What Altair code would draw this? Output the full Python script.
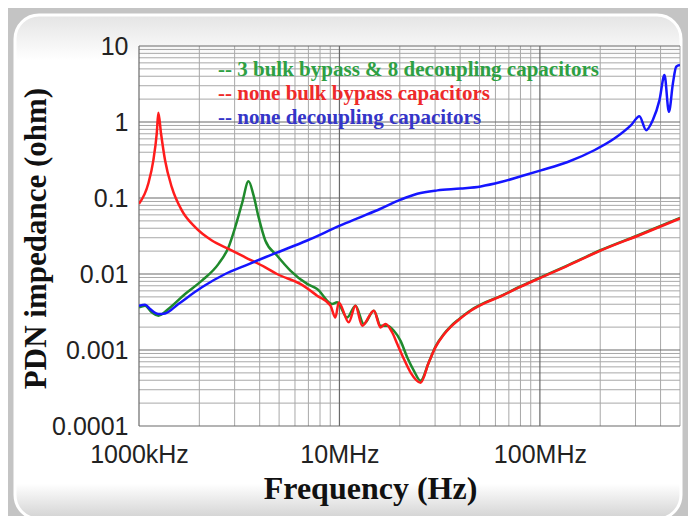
import altair as alt
import pandas as pd

# ---------------- data (frequency in MHz, impedance in ohm) ----------------
green_f = [1.0, 1.072, 1.157, 1.249, 1.401, 1.698, 2.059, 2.493, 2.796, 3.02, 3.263, 3.52,
           3.728, 3.95, 4.266, 4.88, 5.69, 6.9, 7.74, 9.2, 9.74, 10.93, 12.02, 13.23, 14.85,
           16.03, 17.32, 18.69, 20.18, 21.8, 23.53, 25.41, 27.86, 30.2, 33.11, 35.89, 39.36,
           45.19, 53.7, 62.37, 80.35, 101.2, 134.9, 201.8, 319.9, 500]
green_z = [0.00364, 0.00383, 0.00313, 0.00283, 0.00347, 0.00546, 0.00818, 0.0136, 0.0225,
           0.0413, 0.0841, 0.1656, 0.108, 0.056, 0.0276, 0.0175, 0.0111, 0.0074, 0.00635,
           0.00403, 0.00424, 0.00268, 0.00383, 0.0022, 0.00329, 0.00209, 0.00209, 0.00179,
           0.00132, 0.000796, 0.000532, 0.000393, 0.00068, 0.00112, 0.00161, 0.00205,
           0.00253, 0.00333, 0.00425, 0.0050, 0.0069, 0.0091, 0.0127, 0.0207, 0.0336, 0.0548]

red_f = [1.0, 1.113, 1.179, 1.226, 1.249, 1.288, 1.349, 1.457, 1.635, 1.905, 2.31, 2.796,
         3.388, 4.266, 4.88, 6.38, 7.74, 9.02, 9.55, 9.92, 11.13, 12.02, 12.99, 14.85, 16.03,
         16.98, 18.34, 19.43, 20.97, 22.65, 25.41, 27.86, 30.2, 33.11, 35.89, 39.36, 45.19,
         53.7, 62.37, 80.35, 101.2, 134.9, 201.8, 319.9, 500]
red_z = [0.084, 0.155, 0.313, 0.705, 1.32, 0.705, 0.313, 0.139, 0.0686, 0.0413, 0.0276,
         0.0214, 0.0166, 0.01225, 0.0100, 0.0074, 0.00519, 0.00383, 0.00268, 0.00423,
         0.00231, 0.00383, 0.00209, 0.00329, 0.00198, 0.0022, 0.0017, 0.0012, 0.00076,
         0.000505, 0.000372, 0.000678, 0.0011, 0.00159, 0.00202, 0.0025, 0.00329, 0.0042,
         0.00495, 0.00682, 0.00897, 0.01253, 0.0204, 0.0331, 0.0538]

blue_f = [1.0, 1.072, 1.135, 1.249, 1.349, 1.572, 2.059, 2.692, 3.388, 4.266, 4.694, 6.9,
          10.12, 12.74, 16.03, 20.18, 24.46, 30.8, 40.3, 50.7, 63.8, 80.4, 101.2, 137.6,
          186.8, 235.2, 285, 313.7, 338.8, 366, 395, 418.4, 440.2, 460.9, 478.6, 500]
blue_z = [0.00383, 0.00394, 0.00347, 0.00298, 0.00303, 0.00403, 0.00668, 0.0100, 0.0129,
          0.0166, 0.0184, 0.0276, 0.0435, 0.056, 0.0722, 0.095, 0.114, 0.126, 0.133, 0.142,
          0.162, 0.193, 0.231, 0.298, 0.425, 0.605, 0.908, 1.19, 0.78, 1.06, 1.94, 4.14,
          1.36, 3.22, 5.33, 5.61]

legend_labels = ["-- 3 bulk bypass & 8 decoupling capacitors",
                 "-- none bulk bypass capacitors",
                 "-- none decoupling capacitors"]
legend_colors = ["#2ea043", "#ee2a2a", "#3535c8"]
line_colors = ["#1f8a2c", "#ff1c1c", "#1515ff"]

x_tick_values = [1e6, 1e7, 1e8]
x_tick_labels = ["1000kHz", "10MHz", "100MHz"]
y_tick_values = [10, 1, 0.1, 0.01, 0.001, 0.0001]
x_domain = [1e6, 5e8]
y_domain = [0.0001, 10]
x_decades = [1e6, 1e7, 1e8]
y_decades = [0.0001, 0.001, 0.01, 0.1, 1]
minor_mult = [2, 3, 4, 5, 6, 7, 8, 9]

# ---------------- tables ----------------
def series(f, z):
    return pd.DataFrame({"f": [v * 1e6 for v in f], "z": z})

df_green = series(green_f, green_z)
df_red = series(red_f, red_z)
df_blue = series(blue_f, blue_z)

x_minor = [m * d for d in x_decades for m in minor_mult if m * d <= x_domain[1]]
y_minor = [m * d for d in y_decades for m in minor_mult]
df_xminor = pd.DataFrame({"f": x_minor})
df_yminor = pd.DataFrame({"z": y_minor})
df_xmajor = pd.DataFrame({"f": x_decades})
df_ymajor = pd.DataFrame({"z": y_tick_values})

label_expr = " : ".join(
    f"datum.value == {v:g} ? '{t}'" for v, t in zip(x_tick_values, x_tick_labels)
) + " : ''"

x_axis = alt.Axis(values=x_tick_values, labelExpr=label_expr, grid=False, ticks=False,
                  domain=False, labelFont="Liberation Sans", labelFontSize=25,
                  labelColor="#222222", labelPadding=28, labelBaseline="middle",
                  labelFlush=False, labelOverlap=False,
                  titleFont="Liberation Serif", titleFontSize=32, titleFontWeight="bold",
                  titleColor="#111111", titleX=231, titleY=62, titleAlign="center",
                  titleBaseline="middle", titleAngle=0, zindex=1)
y_axis = alt.Axis(values=y_tick_values, format="~g", grid=False, ticks=False, domain=False,
                  labelFont="Liberation Sans", labelFontSize=25, labelColor="#222222",
                  labelPadding=11, labelFlush=False, labelOverlap=False,
                  titleFont="Liberation Serif", titleFontSize=31, titleFontWeight="bold",
                  titleColor="#111111", titleX=-103, titleY=192, titleAlign="center",
                  titleBaseline="middle", titleAngle=270, zindex=1)

x_enc = alt.X("f:Q", scale=alt.Scale(type="log", domain=x_domain, nice=False),
              axis=x_axis, title="Frequency (Hz)")
y_enc = alt.Y("z:Q", scale=alt.Scale(type="log", domain=y_domain, nice=False),
              axis=y_axis, title="PDN impedance (ohm)")

# ---------------- panel ----------------
panel = alt.Chart(pd.DataFrame({"a": [0]})).mark_rect(
    cornerRadius=24, stroke="white", strokeWidth=3,
    fill=alt.Gradient(gradient="linear",
                      stops=[alt.GradientStop(color="#e4e4e4", offset=0),
                             alt.GradientStop(color="#ffffff", offset=0.09),
                             alt.GradientStop(color="#ffffff", offset=0.93),
                             alt.GradientStop(color="#d2d2d2", offset=1)],
                      x1=0, x2=0, y1=0, y2=1)
).encode(x=alt.value(-124), x2=alt.value(542), y=alt.value(-31), y2=alt.value(473))

grid_minor_x = alt.Chart(df_xminor).mark_rule(color="#a8a8a8", strokeWidth=1).encode(x=x_enc)
grid_minor_y = alt.Chart(df_yminor).mark_rule(color="#a8a8a8", strokeWidth=1).encode(y=y_enc)
grid_major_x = alt.Chart(df_xmajor).mark_rule(color="#6a6a6a", strokeWidth=1.2).encode(x=x_enc)
grid_major_y = alt.Chart(df_ymajor).mark_rule(color="#6a6a6a", strokeWidth=1.2).encode(y=y_enc)

def line(df, color):
    return alt.Chart(df).mark_line(color=color, strokeWidth=2.5, clip=True,
                                   interpolate="monotone").encode(x=x_enc, y=y_enc)

lines = [line(df_green, line_colors[0]), line(df_red, line_colors[1]), line(df_blue, line_colors[2])]

texts = []
for i, (lab, col) in enumerate(zip(legend_labels, legend_colors)):
    texts.append(
        alt.Chart(pd.DataFrame({"t": [lab]})).mark_text(
            align="left", baseline="middle", font="Liberation Serif", fontSize=21,
            fontWeight="bold", color=col
        ).encode(text="t:N", x=alt.value(79), y=alt.value(24 + 24 * i))
    )

chart = alt.layer(panel, grid_minor_x, grid_minor_y, grid_major_x, grid_major_y,
                  *lines, *texts).properties(
    width=541, height=380,
    padding={"left": 131, "top": 38, "right": 8, "bottom": 90},
    autosize=alt.AutoSizeParams(type="none"),
    background="#c4c4c4",
).configure_view(stroke=None)

chart.save("out.html", embed_options={"renderer": "svg", "actions": False})
